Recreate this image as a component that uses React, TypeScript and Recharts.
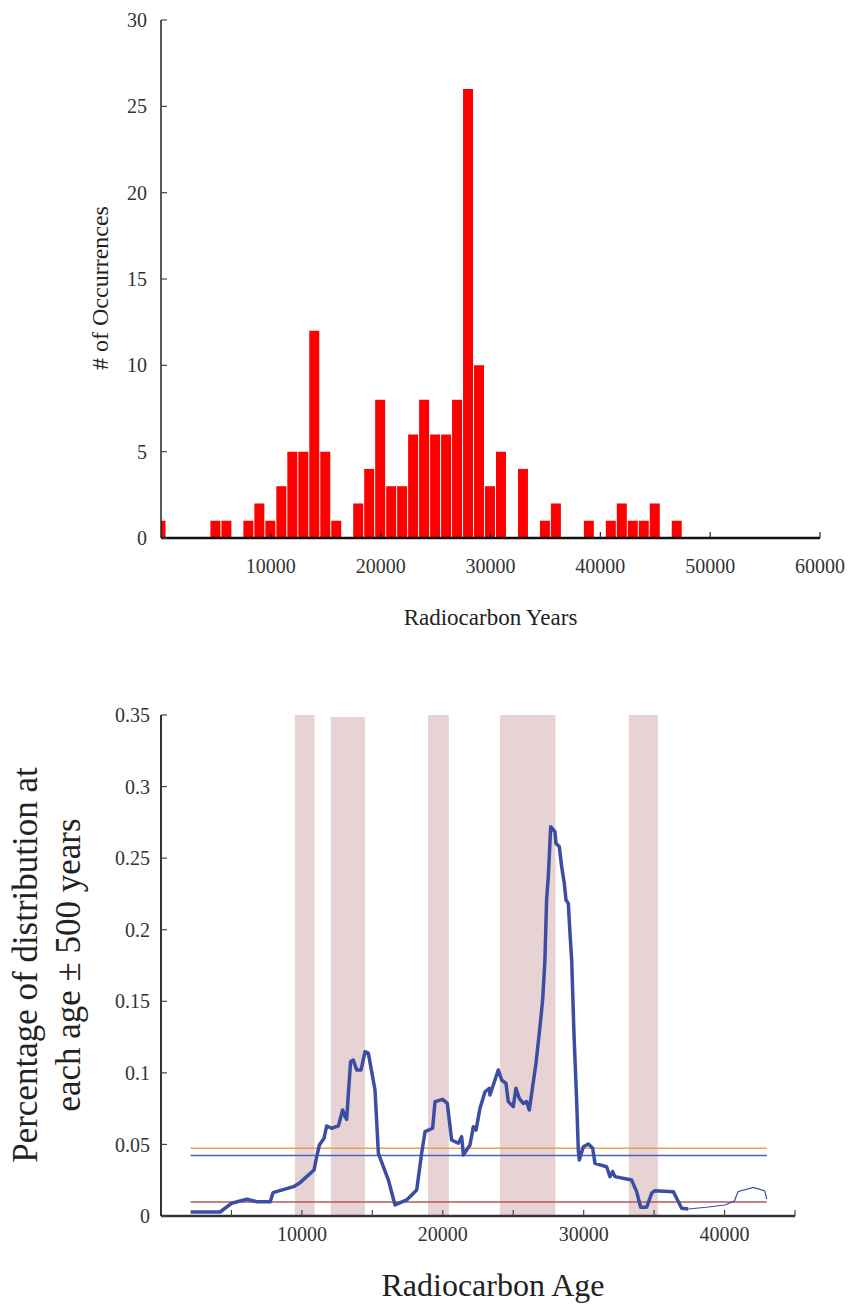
import { BarChart, Bar, LineChart, Line, XAxis, YAxis, ReferenceArea, Label } from 'recharts';

const FONT = '"Liberation Serif", "Times New Roman", serif';

// Histogram of dates, 1000-year bins (bin centre in radiocarbon years)
const binCenters = [
  0, 1000, 2000, 3000, 4000, 5000, 6000, 7000, 8000, 9000, 10000, 11000,
  12000, 13000, 14000, 15000, 16000, 17000, 18000, 19000, 20000, 21000, 22000, 23000,
  24000, 25000, 26000, 27000, 28000, 29000, 30000, 31000, 32000, 33000, 34000, 35000,
  36000, 37000, 38000, 39000, 40000, 41000, 42000, 43000, 44000, 45000, 46000, 47000,
];
const binCounts = [
  1, 0, 0, 0, 0, 1, 1, 0, 1, 2, 1, 3,
  5, 5, 12, 5, 1, 0, 2, 4, 8, 3, 3, 6,
  8, 6, 6, 8, 26, 10, 3, 5, 0, 4, 0, 1,
  2, 0, 0, 1, 0, 1, 2, 1, 1, 2, 0, 1,
];
const histXTicks = [10000, 20000, 30000, 40000, 50000, 60000];
const histYTicks = [0, 5, 10, 15, 20, 25, 30];

// Summed probability: share of distribution within ±500 years of each age
const mainAges = [
  2100, 4200, 5000, 6100, 6800, 7750, 7950, 9400, 9870, 10340, 10860, 11050,
  11240, 11570, 11760, 12110, 12590, 12890, 13060, 13180, 13300, 13460, 13650, 13890,
  14200, 14480, 14720, 15190, 15430, 16140, 16610, 17440, 18150, 18500, 18740, 19280,
  19450, 19990, 20320, 20630, 21100, 21340, 21460, 21930, 22170, 22360, 22640, 23000,
  23300, 23350, 23585, 23940, 24180, 24485, 24650, 25000, 25195, 25430, 25715, 25950,
  26140, 26310, 26615, 26900, 27090, 27250, 27370, 27490, 27660, 27960, 28035, 28270,
  28440, 28625, 28745, 28910, 29030, 29150, 29310, 29500, 29620, 29690, 29975, 30330,
  30640, 30800, 31630, 31870, 32060, 32220, 33405, 33760, 34045, 34470, 34826, 35060,
  36360, 36600, 36955, 37425,
];
const mainPct = [
  0.0028, 0.0028, 0.0089, 0.0117, 0.01, 0.01, 0.0163, 0.0205, 0.0233, 0.0275, 0.0321, 0.0414,
  0.0496, 0.0543, 0.0629, 0.0613, 0.0629, 0.0741, 0.0694, 0.0675, 0.0857, 0.1078, 0.109, 0.102,
  0.102, 0.1148, 0.1136, 0.088, 0.0438, 0.0251, 0.0077, 0.0112, 0.0182, 0.0438, 0.0589, 0.0613,
  0.0799, 0.0815, 0.0787, 0.0531, 0.0508, 0.0554, 0.0426, 0.0496, 0.0624, 0.06, 0.0752, 0.0868,
  0.0892, 0.0845, 0.0915, 0.102, 0.095, 0.0927, 0.0799, 0.0764, 0.0892, 0.0822, 0.0787, 0.0799,
  0.0741, 0.0857, 0.1067, 0.1323, 0.151, 0.1788, 0.2208, 0.237, 0.272, 0.2685, 0.2604, 0.258,
  0.244, 0.2324, 0.2208, 0.2184, 0.1975, 0.1788, 0.1276, 0.081, 0.0461, 0.0391, 0.0484, 0.0503,
  0.0473, 0.0368, 0.0344, 0.0275, 0.031, 0.0275, 0.0251, 0.017, 0.0061, 0.0061, 0.0159, 0.0177,
  0.017, 0.0124, 0.0054, 0.0049,
];
const tailAges = [37425, 38700, 40030, 40700, 40950, 42040, 42850, 43000];
const tailPct = [0.0049, 0.0061, 0.0077, 0.0105, 0.017, 0.02, 0.0175, 0.0117];

// horizontal levels drawn across the dated range
const levelSpan = [2100, 43000];
const levelValues = [0.0474, 0.0423, 0.0098];
const levelColors = ['#f2a04c', '#4a62c4', '#b35a5c'];

// shaded intervals (start, end, top)
const bandStart = [9500, 12050, 18950, 24050, 33200];
const bandEnd = [10900, 14480, 20430, 28000, 35270];
const bandTop = [0.35, 0.3486, 0.35, 0.35, 0.35];

const ageTicks = [0, 5000, 10000, 15000, 20000, 25000, 30000, 35000, 40000, 45000];
const ageLabels = [10000, 20000, 30000, 40000];
const pctTicks = [0, 0.05, 0.1, 0.15, 0.2, 0.25, 0.3, 0.35];

const histData = binCenters.map((x, i) => ({ x, n: binCounts[i] }));
const mainData = mainAges.map((x, i) => ({ x, y: mainPct[i] }));
const tailData = tailAges.map((x, i) => ({ x, y: tailPct[i] }));

const tickFont = { fill: '#333', fontSize: 20, fontFamily: FONT };

function Histogram() {
  return (
    <BarChart width={848} height={650} data={histData} margin={{ top: 20, right: 28, bottom: 0, left: 0 }}>
      <XAxis
        type="number"
        dataKey="x"
        domain={[0, 60000]}
        allowDataOverflow
        ticks={histXTicks}
        interval={0}
        height={112}
        tickSize={-6}
        tickMargin={27}
        axisLine={{ stroke: '#111', strokeWidth: 2.5 }}
        tickLine={{ stroke: '#222', strokeWidth: 1.2 }}
        tick={tickFont}
      >
        <Label value="Radiocarbon Years" position="insideTop" offset={71} fill="#222" fontSize={23} fontFamily={FONT} />
      </XAxis>
      <YAxis
        type="number"
        domain={[0, 30]}
        ticks={histYTicks}
        interval={0}
        width={161}
        tickSize={-6}
        tickMargin={20}
        axisLine={{ stroke: '#222', strokeWidth: 1.5 }}
        tickLine={{ stroke: '#444', strokeWidth: 1.2 }}
        tick={tickFont}
      >
        <Label
          content={() => (
            <text
              x={108}
              y={288}
              transform="rotate(-90 108 288)"
              textAnchor="middle"
              fill="#222"
              fontSize={24}
              fontFamily={FONT}
            >
              # of Occurrences
            </text>
          )}
        />
      </YAxis>
      <YAxis
        yAxisId="right"
        orientation="right"
        width={0}
        domain={[0, 30]}
        ticks={[5]}
        axisLine={false}
        tickSize={-6}
        tickLine={{ stroke: '#444', strokeWidth: 1.2 }}
        tickFormatter={() => ''}
      />
      <Bar dataKey="n" fill="#ff0000" barSize={10} isAnimationActive={false} />
    </BarChart>
  );
}

function Distribution() {
  return (
    <LineChart width={848} height={655} margin={{ top: 65, right: 53, bottom: 0, left: 0 }}>
      {bandStart.map((s, i) => (
        <ReferenceArea
          key={`band-${i}`}
          x1={s}
          x2={bandEnd[i]}
          y1={0}
          y2={bandTop[i]}
          fill="#e8d3d4"
          fillOpacity={1}
          stroke="none"
        />
      ))}
      <XAxis
        type="number"
        dataKey="x"
        domain={[0, 45000]}
        allowDataOverflow
        ticks={ageTicks}
        interval={0}
        height={89}
        tickSize={-6}
        tickMargin={17}
        axisLine={{ stroke: '#333', strokeWidth: 2.5 }}
        tickLine={{ stroke: '#444', strokeWidth: 1.2 }}
        tick={tickFont}
        tickFormatter={(v: number) => (ageLabels.includes(v) ? String(v) : '')}
      >
        <Label value="Radiocarbon Age" position="insideTop" offset={57} dx={15} fill="#222" fontSize={32} fontFamily={FONT} />
      </XAxis>
      <XAxis
        xAxisId="top"
        orientation="top"
        type="number"
        domain={[0, 45000]}
        ticks={ageTicks}
        interval={0}
        height={0}
        tickSize={-6}
        axisLine={{ stroke: '#444', strokeWidth: 2 }}
        tickLine={{ stroke: '#444', strokeWidth: 1.2 }}
        tickFormatter={() => ''}
      />
      <YAxis
        type="number"
        domain={[0, 0.35]}
        ticks={pctTicks}
        interval={0}
        width={161}
        tickSize={-6}
        tickMargin={17}
        axisLine={{ stroke: '#333', strokeWidth: 2 }}
        tickLine={{ stroke: '#444', strokeWidth: 1.2 }}
        tick={tickFont}
      >
        <Label
          content={() => (
            <g fill="#222" fontSize={35} fontFamily={FONT}>
              <text x={37} y={315} transform="rotate(-90 37 315)" textAnchor="middle">
                Percentage of distribution at
              </text>
              <text x={80} y={315} transform="rotate(-90 80 315)" textAnchor="middle">
                each age ± 500 years
              </text>
            </g>
          )}
        />
      </YAxis>
      {levelValues.map((v, i) => (
        <Line
          key={`level-${i}`}
          data={levelSpan.map((x) => ({ x, y: v }))}
          dataKey="y"
          stroke={levelColors[i]}
          strokeWidth={1.5}
          dot={false}
          isAnimationActive={false}
        />
      ))}
      <Line
        data={mainData}
        dataKey="y"
        type="linear"
        stroke="#3b4ea3"
        strokeWidth={3.5}
        strokeLinejoin="round"
        dot={false}
        isAnimationActive={false}
      />
      <Line
        data={tailData}
        dataKey="y"
        type="linear"
        stroke="#3b4ea3"
        strokeWidth={1.2}
        dot={false}
        isAnimationActive={false}
      />
    </LineChart>
  );
}

export default function App() {
  return (
    <div
      style={{ position: 'absolute', left: 0, top: 0, width: 848, height: 1305, background: '#fff', fontFamily: FONT }}
    >
      <style>{`svg text { font-family: ${FONT}; }`}</style>
      <Histogram />
      <Distribution />
    </div>
  );
}
